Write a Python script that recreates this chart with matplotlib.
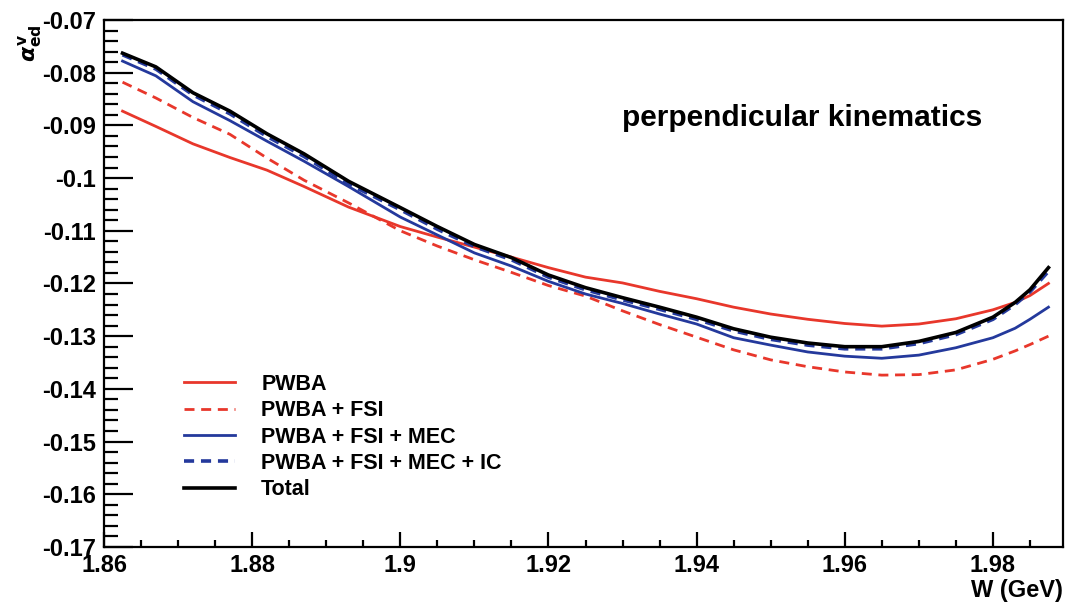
import matplotlib
matplotlib.use("Agg")
import matplotlib.pyplot as plt
from matplotlib.ticker import MultipleLocator, FuncFormatter

plt.rcParams['font.family'] = ['Liberation Sans', 'DejaVu Sans']
plt.rcParams['font.weight'] = 'bold'
plt.rcParams['axes.unicode_minus'] = False

# W (GeV) grid
W = [1.8625, 1.867, 1.872, 1.877, 1.882, 1.887, 1.893, 1.900, 1.905, 1.910,
     1.915, 1.920, 1.925, 1.930, 1.935, 1.940, 1.945, 1.950, 1.955, 1.960,
     1.965, 1.970, 1.975, 1.980, 1.983, 1.985, 1.9875]

pwba = [-0.0873, -0.0902, -0.0935, -0.0961, -0.0985, -0.1016, -0.1055, -0.1092, -0.1112, -0.1131,
        -0.1150, -0.1170, -0.1188, -0.1199, -0.1215, -0.1229, -0.1245, -0.1258, -0.1268, -0.1276,
        -0.1281, -0.1277, -0.1267, -0.1250, -0.1236, -0.1223, -0.1200]

pwba_fsi = [-0.0818, -0.0848, -0.0885, -0.0917, -0.0962, -0.1004, -0.1047, -0.1100, -0.1129, -0.1155,
            -0.1179, -0.1204, -0.1224, -0.1252, -0.1278, -0.1302, -0.1326, -0.1345, -0.1358, -0.1368,
            -0.1374, -0.1373, -0.1364, -0.1344, -0.1328, -0.1316, -0.1300]

pwba_fsi_mec = [-0.0778, -0.0806, -0.0855, -0.0891, -0.0930, -0.0968, -0.1016, -0.1074, -0.1108, -0.1142,
                -0.1167, -0.1196, -0.1220, -0.1238, -0.1258, -0.1277, -0.1303, -0.1317, -0.1330, -0.1338,
                -0.1342, -0.1336, -0.1322, -0.1303, -0.1285, -0.1268, -0.1245]

pwba_fsi_mec_ic = [-0.0766, -0.0793, -0.0842, -0.0878, -0.0921, -0.0959, -0.1011, -0.1060, -0.1097, -0.1130,
                   -0.1155, -0.1188, -0.1212, -0.1231, -0.1249, -0.1268, -0.1290, -0.1306, -0.1317, -0.1324,
                   -0.1324, -0.1314, -0.1297, -0.1268, -0.1240, -0.1216, -0.1177]

total = [-0.0763, -0.0789, -0.0838, -0.0873, -0.0916, -0.0954, -0.1006, -0.1056, -0.1092, -0.1126,
         -0.1151, -0.1184, -0.1208, -0.1227, -0.1245, -0.1264, -0.1286, -0.1302, -0.1313, -0.1320,
         -0.1320, -0.1310, -0.1293, -0.1264, -0.1236, -0.1212, -0.1170]

labels = ["PWBA", "PWBA + FSI", "PWBA + FSI + MEC", "PWBA + FSI + MEC + IC", "Total"]

red = '#e8372b'
blue = '#24399c'

fig = plt.figure(figsize=(10.67, 6.06), dpi=100)
ax = fig.add_axes([0.0975, 0.0975, 0.899, 0.8695])

ax.plot(W, pwba, color=red, lw=2.0, label=labels[0])
ax.plot(W, pwba_fsi, color=red, lw=2.0, dashes=(3.6, 2.4), label=labels[1])
ax.plot(W, pwba_fsi_mec, color=blue, lw=2.0, label=labels[2])
ax.plot(W, pwba_fsi_mec_ic, color=blue, lw=2.6, dashes=(2.8, 1.9), label=labels[3])
ax.plot(W, total, color='black', lw=2.6, label=labels[4])

ax.set_xlim(1.86, 1.9895)
ax.set_ylim(-0.17, -0.07)

ax.xaxis.set_major_locator(MultipleLocator(0.02))
ax.xaxis.set_minor_locator(MultipleLocator(0.005))
ax.yaxis.set_major_locator(MultipleLocator(0.01))
ax.yaxis.set_minor_locator(MultipleLocator(0.002))
fmt = FuncFormatter(lambda v, p: '%g' % round(v, 4))
ax.xaxis.set_major_formatter(fmt)
ax.yaxis.set_major_formatter(fmt)

ax.tick_params(axis='both', which='both', direction='in', top=False, right=False,
               width=1.6, labelsize=17)
ax.tick_params(axis='y', which='major', length=21, pad=6)
ax.tick_params(axis='y', which='minor', length=10)
ax.tick_params(axis='x', which='major', length=11, pad=5)
ax.tick_params(axis='x', which='minor', length=5)
for s in ax.spines.values():
    s.set_linewidth(1.6)

ax.text(0.9155, 0.814, "perpendicular kinematics", transform=ax.transAxes,
        ha='right', va='center', fontsize=21.5, fontweight='bold')

fig.text(0.996, 0.026, "W (GeV)", ha='right', va='center', fontsize=17, fontweight='bold')
fig.text(0.028, 0.96, r'$\alpha^{\mathbf{v}}_{\mathbf{ed}}$', rotation=90,
         ha='center', va='top', fontsize=16)

ax.legend(loc='upper left', bbox_to_anchor=(0.074, 0.345), frameon=False,
          fontsize=15.5, handlelength=2.4, handletextpad=1.2, labelspacing=0.25,
          borderaxespad=0)

fig.savefig("out.png", dpi=100)
